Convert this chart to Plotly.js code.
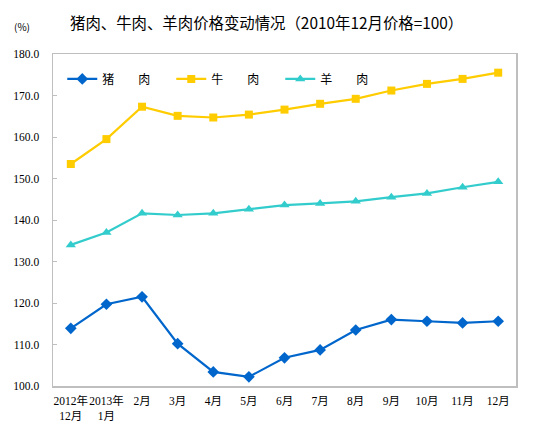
<!DOCTYPE html>
<html><head><meta charset="utf-8">
<script src="https://cdn.plot.ly/plotly-3.0.1.min.js"></script>
<style>html,body{margin:0;padding:0;background:#fff}#chart{width:535px;height:438px}</style>
</head><body><div id="chart"></div>
<script>
const categories = ["2012年<br>12月","2013年<br>1月","2月","3月","4月","5月","6月","7月","8月","9月","10月","11月","12月"];
const porkValues = [113.9,119.7,121.5,110.2,103.4,102.2,106.8,108.7,113.5,116.0,115.6,115.2,115.6];
const beefValues = [153.5,159.5,167.3,165.1,164.7,165.4,166.6,168.0,169.2,171.2,172.8,174.0,175.5];
const lambValues = [134.0,137.0,141.6,141.2,141.6,142.6,143.6,144.0,144.5,145.5,146.4,147.9,149.2];
const seriesNames = ["猪　　肉","牛　　肉","羊　　肉"];
const yTicks = [100,110,120,130,140,150,160,170,180];

const xIdx = categories.map((_, i) => i);
function mk(name, vals, color, symbol, size) {
  return {type:'scatter', mode:'lines+markers', name:name, x:xIdx, y:vals,
    line:{color:color, width:2.2}, marker:{color:color, symbol:symbol, size:size}};
}
const data = [
  mk(seriesNames[0], porkValues, '#0066CC', 'diamond', 9),
  mk(seriesNames[1], beefValues, '#FFCC00', 'square', 8),
  mk(seriesNames[2], lambValues, '#33CCCC', 'triangle-up', 9)
];
const tickFont = {family:'"Liberation Serif", "Noto Sans CJK SC", serif', size:11.5, color:'#000'};
const layout = {
  width:535, height:438,
  margin:{l:53, r:19, t:54, b:52},
  paper_bgcolor:'#fff', plot_bgcolor:'#fff',
  showlegend:true,
  title:{text:'猪肉、牛肉、羊肉价格变动情况（2010年12月价格=100）', x:70/535, xanchor:'left', y:1-24/438, yanchor:'middle',
    font:{family:'"Noto Sans CJK SC", sans-serif', size:15.4, color:'#000'}},
  xaxis:{range:[-0.5,12.5], tickmode:'array', tickvals:xIdx, ticktext:categories, tickangle:0,
    showline:true, linecolor:'#BFBFBF', linewidth:1.5, mirror:true, ticks:'', showgrid:false, zeroline:false,
    tickfont:tickFont, fixedrange:true, ticklabelstandoff:4},
  yaxis:{range:[100,180], tickmode:'array', tickvals:yTicks, ticktext:yTicks.map(v=>v.toFixed(1)), tickangle:0,
    showline:true, linecolor:'#BFBFBF', linewidth:1.5, mirror:true, ticks:'inside', ticklen:4, tickcolor:'#BFBFBF',
    showgrid:false, zeroline:false, tickfont:tickFont, ticklabelstandoff:10},
  legend:{orientation:'h', x:0.02, xanchor:'left', y:0.925, yanchor:'middle', bgcolor:'rgba(0,0,0,0)',
    font:{family:'"Noto Sans CJK SC", sans-serif', size:12, color:'#000'}, itemwidth:30, entrywidth:64, traceorder:'normal'},
  annotations:[{text:'(%)', xref:'paper', yref:'paper', x:-53/463+12/463, xanchor:'left', y:1+28/332, yanchor:'middle',
    showarrow:false, font:{family:'"Noto Sans CJK SC", sans-serif', size:10, color:'#000'}}]
};
Plotly.newPlot('chart', data, layout, {displayModeBar:false, staticPlot:true});
</script></body></html>
